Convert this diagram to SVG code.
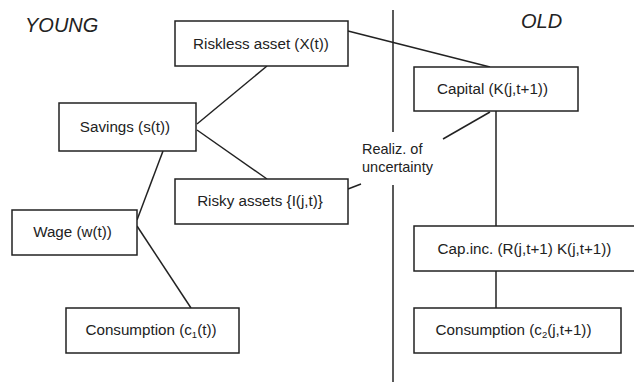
<svg xmlns="http://www.w3.org/2000/svg" width="634" height="382" viewBox="0 0 634 382">
<style>
.box{fill:#fff;stroke:#222;stroke-width:1.5}
.ln{stroke:#222;stroke-width:1.5;fill:none}
.t{font-family:"Liberation Sans",Arial,sans-serif;font-size:15.2px;fill:#222;text-anchor:middle}
.h{font-family:"Liberation Sans",Arial,sans-serif;font-size:20px;font-style:italic;fill:#222}
.l{font-family:"Liberation Sans",Arial,sans-serif;font-size:14.5px;fill:#222}
</style>
<rect width="634" height="382" fill="#fff"/>
<text class="h" x="25" y="32">YOUNG</text>
<text class="h" x="521" y="28">OLD</text>
<g id="connectors">
<line class="ln" x1="393" y1="10" x2="393" y2="132"/>
<line class="ln" x1="393" y1="185" x2="393" y2="382"/>
<line class="ln" x1="348" y1="31" x2="490" y2="67"/>
<line class="ln" x1="267" y1="66" x2="197" y2="124"/>
<line class="ln" x1="197" y1="130" x2="267" y2="179"/>
<line class="ln" x1="163" y1="151" x2="137" y2="220"/>
<line class="ln" x1="137" y1="226" x2="191" y2="308"/>
<line class="ln" x1="348" y1="189" x2="361" y2="184"/>
<line class="ln" x1="490" y1="112" x2="443" y2="139"/>
<line class="ln" x1="496" y1="111" x2="496" y2="226"/>
<line class="ln" x1="496" y1="271" x2="496" y2="308"/>
</g>
<g id="riskless"><rect class="box" x="175" y="21" width="173" height="45"/><text class="t" x="261" y="48.5">Riskless asset (X(t))</text></g>
<g id="savings"><rect class="box" x="59" y="103" width="137" height="48"/><text class="t" x="125" y="132">Savings (s(t))</text></g>
<g id="risky"><rect class="box" x="175" y="179" width="173" height="45"/><text class="t" x="260" y="206">Risky assets {I(j,t)}</text></g>
<g id="wage"><rect class="box" x="12" y="210" width="125" height="45"/><text class="t" x="72.5" y="237">Wage (w(t))</text></g>
<g id="consumption1"><rect class="box" x="66" y="308" width="173" height="45"/><text class="t" x="151" y="335">Consumption (c<tspan font-size="9.5" dy="3">1</tspan><tspan dy="-3">(t))</tspan></text></g>
<g id="realiz"><text class="l" x="362" y="154">Realiz. of</text><text class="l" x="362" y="172">uncertainty</text></g>
<g id="capital"><rect class="box" x="414" y="67" width="164" height="44"/><text class="t" x="492.5" y="94">Capital (K(j,t+1))</text></g>
<g id="capinc"><rect class="box" x="414" y="226" width="230" height="45"/><text class="t" x="524.5" y="253.5">Cap.inc. (R(j,t+1) K(j,t+1))</text></g>
<g id="consumption2"><rect class="box" x="414" y="308" width="207" height="45"/><text class="t" x="513.5" y="335">Consumption (c<tspan font-size="9.5" dy="3">2</tspan><tspan dy="-3">(j,t+1))</tspan></text></g>
</svg>
